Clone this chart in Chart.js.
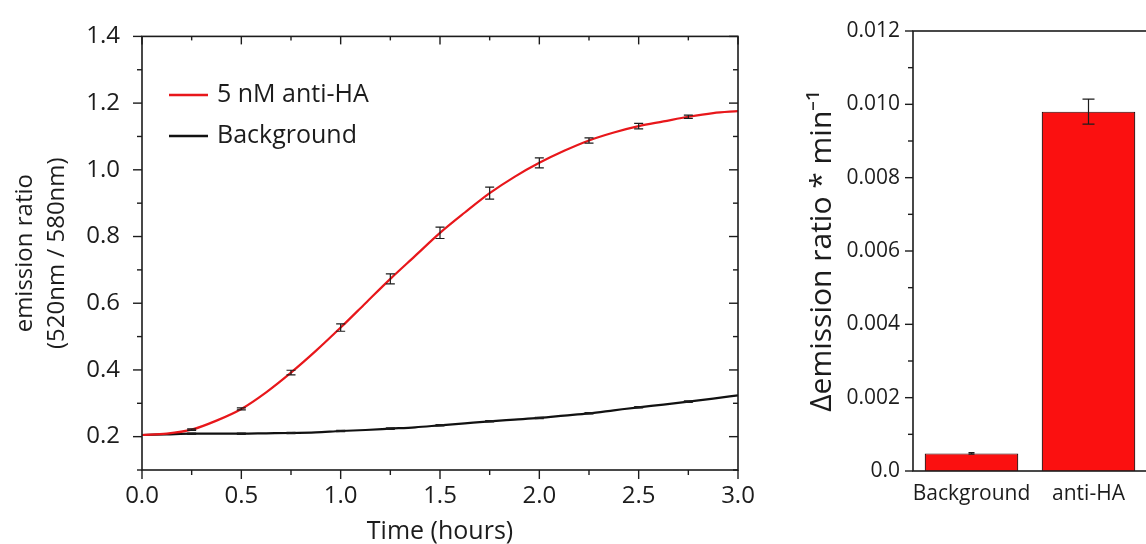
<!DOCTYPE html>
<html>
<head>
<meta charset="utf-8">
<script src="https://cdn.jsdelivr.net/npm/chart.js@4.4.0/dist/chart.umd.min.js"></script>
<style>
html, body { margin: 0; padding: 0; background: #fff; overflow: hidden; width: 1146px; height: 544px; }
#left { position: absolute; left: 0; top: 0; }
#right { position: absolute; left: 780px; top: 0; }
</style>
</head>
<body>
<canvas id="left" width="790" height="544"></canvas>
<canvas id="right" width="380" height="544"></canvas>
<script>
// left panel: emission ratio vs time
const timeHours = [0, 0.125, 0.25, 0.375, 0.5, 0.625, 0.75, 0.875, 1.0, 1.125, 1.25, 1.375, 1.5,
                   1.625, 1.75, 1.875, 2.0, 2.125, 2.25, 2.375, 2.5, 2.625, 2.75, 2.875, 3.0];
const antiHA = [0.205, 0.209, 0.221, 0.248, 0.283, 0.333, 0.392, 0.457, 0.527, 0.600, 0.673, 0.742, 0.811,
                0.872, 0.930, 0.979, 1.021, 1.057, 1.088, 1.112, 1.131, 1.145, 1.159, 1.170, 1.176];
const background = [0.205, 0.207, 0.209, 0.209, 0.209, 0.210, 0.211, 0.213, 0.217, 0.220, 0.224, 0.228, 0.234,
                    0.240, 0.246, 0.251, 0.256, 0.263, 0.270, 0.279, 0.288, 0.296, 0.305, 0.314, 0.324];

// error bars every 15 min
const errTimes = [0.25, 0.5, 0.75, 1.0, 1.25, 1.5, 1.75, 2.0, 2.25, 2.5, 2.75];
const antiHAErr = [0.002, 0.003, 0.007, 0.011, 0.015, 0.017, 0.018, 0.015, 0.008, 0.008, 0.005];
const backgroundErr = [0.002, 0.002, 0.002, 0.002, 0.002, 0.002, 0.002, 0.002, 0.002, 0.002, 0.002];

const xTicks = [0, 0.5, 1.0, 1.5, 2.0, 2.5, 3.0];
const xMinor = [0.25, 0.75, 1.25, 1.75, 2.25, 2.75];
const yTicks = [0.2, 0.4, 0.6, 0.8, 1.0, 1.2, 1.4];
const yMinor = [0.1, 0.3, 0.5, 0.7, 0.9, 1.1, 1.3];

// right panel: rates
const categories = ['Background', 'anti-HA'];
const rates = [0.00048, 0.0098];
const rateErr = [0.00002, 0.00034];
const rateTicks = [0, 0.002, 0.004, 0.006, 0.008, 0.010, 0.012];
const rateMinor = [0.001, 0.003, 0.005, 0.007, 0.009, 0.011];

const RED = '#e8171b';
const BAR_RED = '#fb1010';
const INK = '#1c1c1c';
const FONT = "'Open Sans', sans-serif";

function yTickMarks(ctx, scale, values, x, len) {
    values.forEach(v => {
        const y = scale.getPixelForValue(v);
        ctx.beginPath(); ctx.moveTo(x, y); ctx.lineTo(x + len, y); ctx.stroke();
    });
}
function xTickMarks(ctx, scale, values, y, len) {
    values.forEach(v => {
        const x = scale.getPixelForValue(v);
        ctx.beginPath(); ctx.moveTo(x, y); ctx.lineTo(x, y + len); ctx.stroke();
    });
}
function errorBar(ctx, x, yLo, yHi, cap) {
    ctx.beginPath();
    ctx.moveTo(x, yLo); ctx.lineTo(x, yHi);
    ctx.moveTo(x - cap, yLo); ctx.lineTo(x + cap, yLo);
    ctx.moveTo(x - cap, yHi); ctx.lineTo(x + cap, yHi);
    ctx.stroke();
}

const leftDecor = {
    id: 'leftDecor',
    afterDatasetsDraw(chart) {
        const {ctx, scales: {x, y}} = chart;
        ctx.save();
        ctx.strokeStyle = INK;
        ctx.lineWidth = 1.2;
        errTimes.forEach((t, k) => {
            const i = timeHours.indexOf(t);
            const px = x.getPixelForValue(t);
            errorBar(ctx, px, y.getPixelForValue(antiHA[i] - antiHAErr[k]), y.getPixelForValue(antiHA[i] + antiHAErr[k]), 4.5);
            errorBar(ctx, px, y.getPixelForValue(background[i] - backgroundErr[k]), y.getPixelForValue(background[i] + backgroundErr[k]), 4.5);
        });
        ctx.restore();
    },
    afterDraw(chart) {
        const {ctx, chartArea: a, scales: {x, y}} = chart;
        ctx.save();
        ctx.strokeStyle = INK;
        ctx.lineWidth = 1.6;
        ctx.strokeRect(a.left, a.top, a.right - a.left, a.bottom - a.top);
        ctx.lineWidth = 1.4;
        yTickMarks(ctx, y, yTicks, a.left, -9);
        yTickMarks(ctx, y, yMinor, a.left, -5);
        yTickMarks(ctx, y, yTicks, a.right, -9);
        yTickMarks(ctx, y, yMinor, a.right, -5);
        xTickMarks(ctx, x, xTicks, a.bottom, 9);
        xTickMarks(ctx, x, xMinor, a.bottom, 5);
        xTickMarks(ctx, x, xTicks, a.top, 8);
        xTickMarks(ctx, x, xMinor, a.top, 4);

        // legend inside the plot
        ctx.font = '25px ' + FONT;
        ctx.textBaseline = 'middle';
        ctx.fillStyle = INK;
        chart.data.datasets.forEach((ds, i) => {
            const ly = 95 + i * 41;
            ctx.strokeStyle = ds.borderColor;
            ctx.lineWidth = 2.6;
            ctx.beginPath(); ctx.moveTo(169, ly); ctx.lineTo(208, ly); ctx.stroke();
            ctx.fillText(ds.label, 217, ly);
        });
        ctx.restore();
    }
};

new Chart(document.getElementById('left'), {
    type: 'line',
    data: {
        datasets: [
            {
                label: '5 nM anti-HA',
                data: timeHours.map((t, i) => ({x: t, y: antiHA[i]})),
                borderColor: RED, borderWidth: 2.2, pointRadius: 0,
                cubicInterpolationMode: 'monotone'
            },
            {
                label: 'Background',
                data: timeHours.map((t, i) => ({x: t, y: background[i]})),
                borderColor: '#111', borderWidth: 2.2, pointRadius: 0,
                cubicInterpolationMode: 'monotone'
            }
        ]
    },
    options: {
        responsive: false,
        animation: false,
        devicePixelRatio: 1,
        layout: { padding: { top: 31, right: 52, left: 0, bottom: 0 } },
        plugins: { legend: { display: false }, tooltip: { enabled: false } },
        scales: {
            x: {
                type: 'linear', min: 0, max: 3,
                afterBuildTicks: s => { s.ticks = xTicks.map(v => ({value: v})); },
                afterFit: s => { s.height = 74; },
                grid: { display: false, drawTicks: false },
                border: { display: false },
                ticks: { padding: 12, color: INK, autoSkip: false, maxRotation: 0,
                         font: { family: FONT, size: 24 }, callback: v => v.toFixed(1) },
                title: { display: true, text: 'Time (hours)', color: INK, padding: 0,
                         font: { family: FONT, size: 25, lineHeight: 1 } }
            },
            y: {
                type: 'linear', min: 0.1, max: 1.4,
                afterBuildTicks: s => { s.ticks = yTicks.map(v => ({value: v})); },
                afterFit: s => { s.width = 142; },
                grid: { display: false, drawTicks: false },
                border: { display: false },
                ticks: { padding: 22, color: INK, font: { family: FONT, size: 24 },
                         callback: v => v.toFixed(1) },
                title: { display: true, text: ['emission ratio', '(520nm / 580nm)'], color: INK,
                         padding: { top: 10 }, font: { family: FONT, size: 24, lineHeight: 1.3 } }
            }
        }
    },
    plugins: [leftDecor]
});

const rightDecor = {
    id: 'rightDecor',
    afterDraw(chart) {
        const {ctx, chartArea: a, scales: {y}} = chart;
        const meta = chart.getDatasetMeta(0);
        ctx.save();
        ctx.strokeStyle = INK;
        ctx.lineWidth = 1.2;
        meta.data.forEach((bar, i) => {
            errorBar(ctx, bar.x, y.getPixelForValue(rates[i] - rateErr[i]), y.getPixelForValue(rates[i] + rateErr[i]), i === 0 ? 3 : 6);
        });
        ctx.lineWidth = 1.6;
        ctx.strokeRect(a.left, a.top, a.right - a.left, a.bottom - a.top);
        ctx.lineWidth = 1.4;
        yTickMarks(ctx, y, rateTicks, a.left, -8);
        yTickMarks(ctx, y, rateMinor, a.left, -5);
        ctx.restore();
    }
};

new Chart(document.getElementById('right'), {
    type: 'bar',
    data: {
        labels: categories,
        datasets: [{
            data: rates,
            backgroundColor: BAR_RED,
            borderColor: '#2a0a0a',
            borderWidth: 1.2,
            barPercentage: 0.8,
            categoryPercentage: 1.0
        }]
    },
    options: {
        responsive: false,
        animation: false,
        devicePixelRatio: 1,
        layout: { padding: { top: 31, right: 13, left: 0, bottom: 0 } },
        plugins: { legend: { display: false }, tooltip: { enabled: false } },
        scales: {
            x: {
                afterFit: s => { s.height = 73; },
                grid: { display: false, drawTicks: false },
                border: { display: false },
                ticks: { padding: 10, color: INK, maxRotation: 0, autoSkip: false,
                         font: { family: FONT, size: 21 } }
            },
            y: {
                min: 0, max: 0.012,
                afterBuildTicks: s => { s.ticks = rateTicks.map(v => ({value: v})); },
                afterFit: s => { s.width = 133; },
                grid: { display: false, drawTicks: false },
                border: { display: false },
                ticks: { padding: 13, color: INK, font: { family: FONT, size: 21 },
                         callback: v => v === 0 ? '0.0' : v.toFixed(3) },
                title: { display: true, text: 'Δemission ratio * min⁻¹', color: INK,
                         padding: { top: 24 }, font: { family: FONT, size: 30, lineHeight: 1.2 } }
            }
        }
    },
    plugins: [rightDecor]
});
</script>
</body>
</html>
